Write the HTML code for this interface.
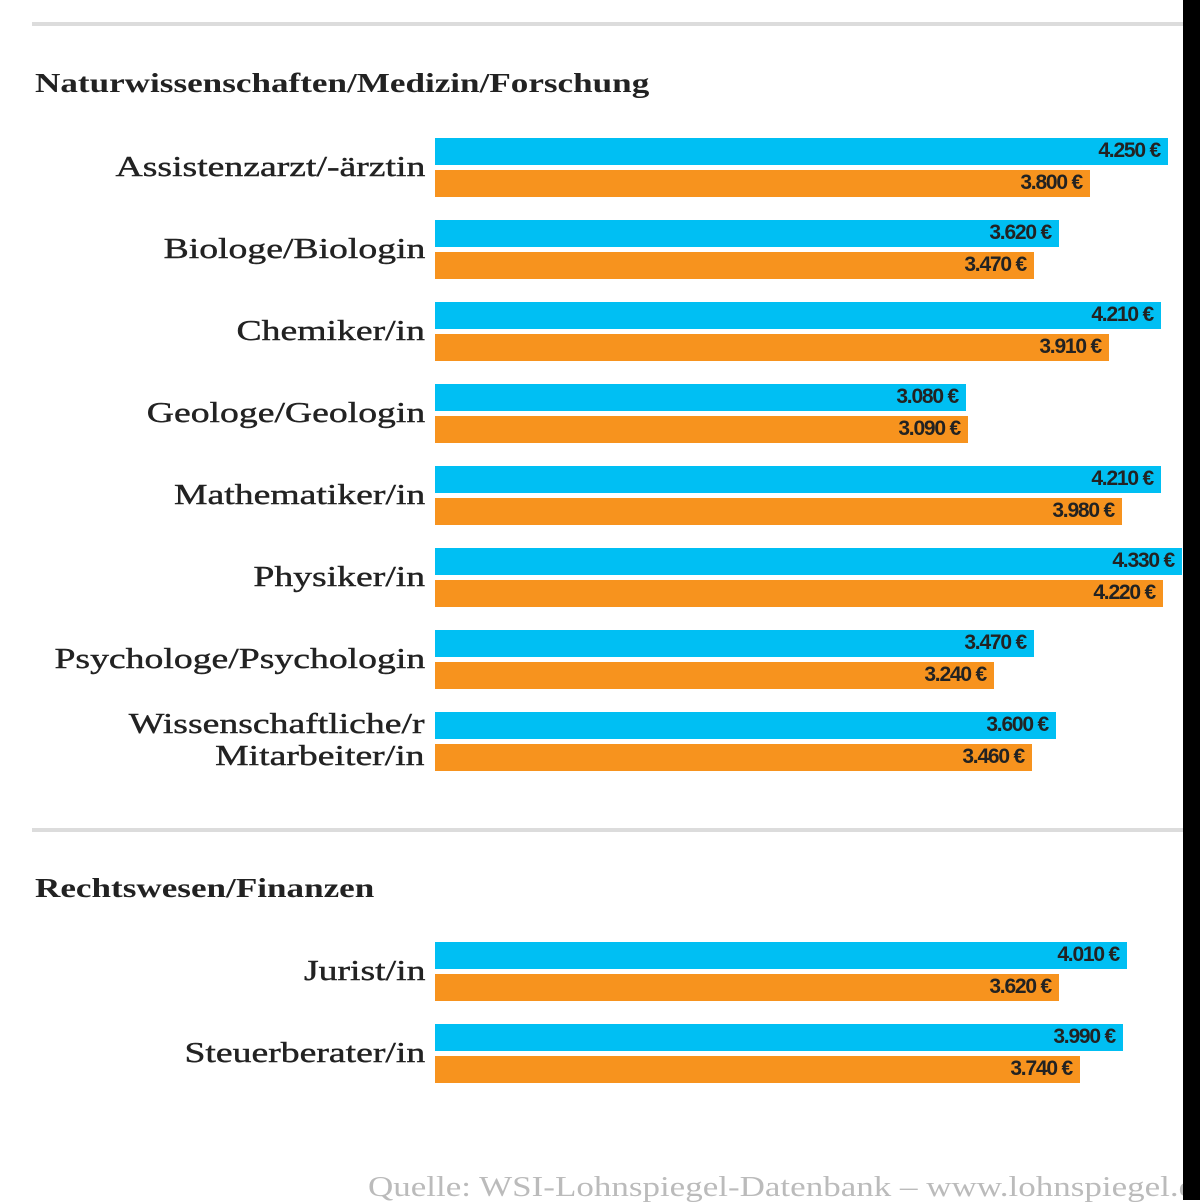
<!DOCTYPE html>
<html><head><meta charset="utf-8"><style>
body{margin:0;width:1200px;height:1200px;background:#fff;position:relative;overflow:hidden;font-family:"Liberation Serif",serif}
.hr{position:absolute;left:32px;width:1151px;height:4px;background:#dcdcdc}
.h{position:absolute;left:35px;font-weight:bold;font-size:27px;color:#222;transform:scaleX(1.3);transform-origin:left;white-space:nowrap}
.lab{position:absolute;right:775px;font-size:29px;color:#222;text-align:right;line-height:32px;white-space:nowrap;transform:scaleX(1.3);transform-origin:right;-webkit-text-stroke:0.4px #222}
.b{position:absolute;left:435px;height:27px}
.bl{background:#00bff3}.or{background:#f7931e}
.v{position:absolute;right:8px;top:1px;font-family:"Liberation Sans",sans-serif;font-size:21px;font-weight:bold;color:#222;letter-spacing:-1.2px;white-space:nowrap}
.edge{position:absolute;left:1183px;top:0;width:17px;height:1200px;background:#000}
.src{position:absolute;left:368px;top:1172px;font-size:28px;color:#bbb;white-space:nowrap;transform:scaleX(1.25);transform-origin:left}
</style></head><body>
<div class="hr" style="top:22px"></div>
<div class="h" style="top:68px">Naturwissenschaften/Medizin/Forschung</div>
<div class="hr" style="top:828px"></div>
<div class="h" style="top:873px">Rechtswesen/Finanzen</div>

<div class="lab" style="top:151px">Assistenzarzt/-ärztin</div>
<div class="b bl" style="top:138px;width:733px"><span class="v">4.250 €</span></div>
<div class="b or" style="top:170px;width:655px"><span class="v">3.800 €</span></div>

<div class="lab" style="top:233px">Biologe/Biologin</div>
<div class="b bl" style="top:220px;width:624px"><span class="v">3.620 €</span></div>
<div class="b or" style="top:252px;width:599px"><span class="v">3.470 €</span></div>

<div class="lab" style="top:315px">Chemiker/in</div>
<div class="b bl" style="top:302px;width:726px"><span class="v">4.210 €</span></div>
<div class="b or" style="top:334px;width:674px"><span class="v">3.910 €</span></div>

<div class="lab" style="top:397px">Geologe/Geologin</div>
<div class="b bl" style="top:384px;width:531px"><span class="v">3.080 €</span></div>
<div class="b or" style="top:416px;width:533px"><span class="v">3.090 €</span></div>

<div class="lab" style="top:479px">Mathematiker/in</div>
<div class="b bl" style="top:466px;width:726px"><span class="v">4.210 €</span></div>
<div class="b or" style="top:498px;width:687px"><span class="v">3.980 €</span></div>

<div class="lab" style="top:561px">Physiker/in</div>
<div class="b bl" style="top:548px;width:747px"><span class="v">4.330 €</span></div>
<div class="b or" style="top:580px;width:728px"><span class="v">4.220 €</span></div>

<div class="lab" style="top:643px">Psychologe/Psychologin</div>
<div class="b bl" style="top:630px;width:599px"><span class="v">3.470 €</span></div>
<div class="b or" style="top:662px;width:559px"><span class="v">3.240 €</span></div>

<div class="lab" style="top:708px">Wissenschaftliche/r<br>Mitarbeiter/in</div>
<div class="b bl" style="top:712px;width:621px"><span class="v">3.600 €</span></div>
<div class="b or" style="top:744px;width:597px"><span class="v">3.460 €</span></div>

<div class="lab" style="top:955px">Jurist/in</div>
<div class="b bl" style="top:942px;width:692px"><span class="v">4.010 €</span></div>
<div class="b or" style="top:974px;width:624px"><span class="v">3.620 €</span></div>

<div class="lab" style="top:1037px">Steuerberater/in</div>
<div class="b bl" style="top:1024px;width:688px"><span class="v">3.990 €</span></div>
<div class="b or" style="top:1056px;width:645px"><span class="v">3.740 €</span></div>

<div class="src">Quelle: WSI-Lohnspiegel-Datenbank – www.lohnspiegel.de</div>
<div class="edge"></div>
</body></html>
